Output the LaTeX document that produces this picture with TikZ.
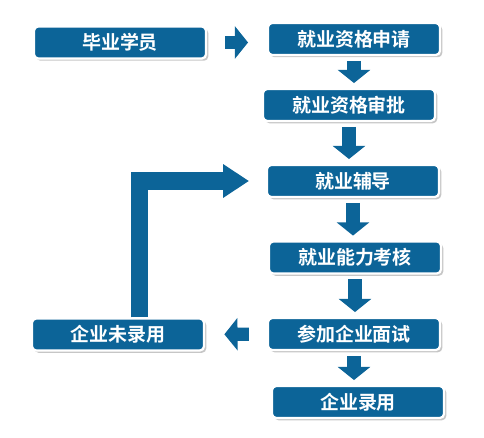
\documentclass[tikz,border=0pt]{standalone}
\usepackage{fontspec}
\newfontfamily\cjk{Noto Sans CJK SC Bold}
\usetikzlibrary{arrows.meta, calc, positioning, shadows}
\definecolor{boxblue}{RGB}{12,100,152}

\begin{document}
\begin{tikzpicture}[
    x=0.025cm, y=-0.025cm,
    stage/.style={rectangle, rounded corners=3pt, fill=boxblue, draw=white,
        line width=1.6pt, minimum width=4.3cm, minimum height=0.8cm,
        text=white, font=\cjk\fontsize{13.5}{16}\selectfont,
        drop shadow={shadow xshift=1.6pt, shadow yshift=-1.6pt, opacity=0.45, fill=gray}},
    flow/.style={draw=boxblue, line width=0.33cm,
        -{Triangle[width=0.8cm, length=0.33cm]}},
    loopflow/.style={draw=boxblue, line width=0.43cm, line join=miter,
        -{Triangle[width=0.8cm, length=0.65cm]}},
]
\useasboundingbox (0,0) rectangle (484,438);
% stages
\node[stage] (grad)      at (120,42.5) {毕业学员};
\node[stage] (apply)     at (354,39)   {就业资格申请};
\node[stage] (approve)   at (349,105)  {就业资格审批};
\node[stage] (guide)     at (353,181)  {就业辅导};
\node[stage] (assess)    at (355,257.5){就业能力考核};
\node[stage] (interview) at (354,334)  {参加企业面试};
\node[stage] (hired)     at (358,402)  {企业录用};
\node[stage] (unhired)   at (118,334.5){企业未录用};
% main flow
\draw[flow, shorten <=0.45cm, shorten >=0.47cm] (grad.east) -- (grad.east -| apply.west);
\draw[flow, shorten <=0.12cm, shorten >=0.12cm] (apply.south) -- (apply.south |- approve.north);
\draw[flow, shorten <=0.12cm, shorten >=0.12cm] (approve.south) -- (approve.south |- guide.north);
\draw[flow, shorten <=0.12cm, shorten >=0.12cm] (guide.south) -- (guide.south |- assess.north);
\draw[flow, shorten <=0.12cm, shorten >=0.12cm] (assess.south) -- (assess.south |- interview.north);
\draw[flow, shorten <=0.12cm, shorten >=0.12cm] (interview.south) -- (interview.south |- hired.north);
% not hired -> back to guidance
\draw[flow, shorten <=0.45cm, shorten >=0.48cm] (interview.west) -- (unhired.east);
\coordinate (turn) at ($(unhired.north)+(21.5,0)$);
\draw[loopflow, shorten >=0.42cm] (turn) |- (guide.west);
\end{tikzpicture}
\end{document}
